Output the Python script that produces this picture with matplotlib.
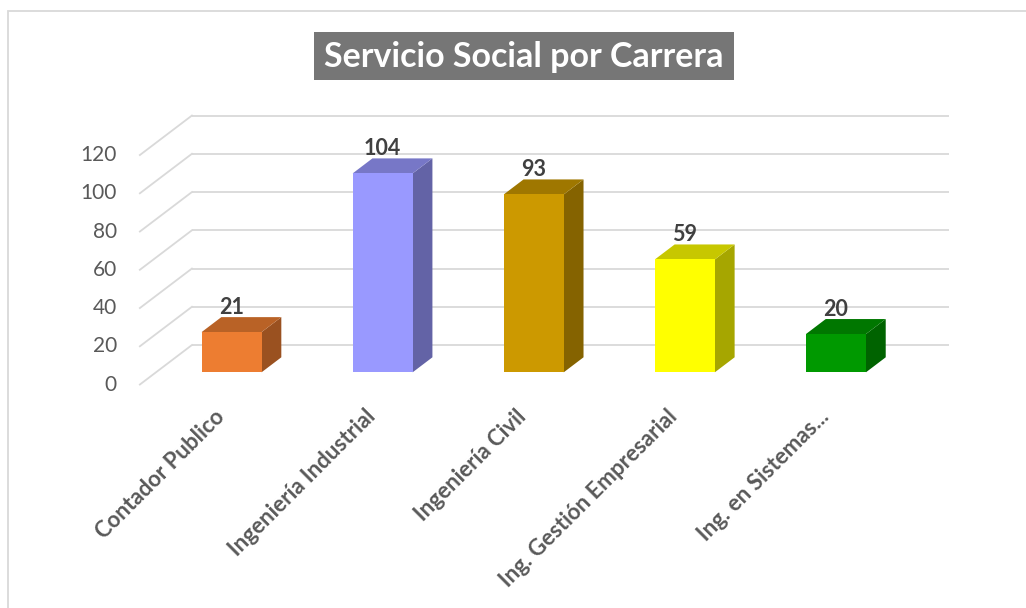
import matplotlib
matplotlib.use("Agg")
import matplotlib.pyplot as plt
from matplotlib.patches import Polygon, Rectangle
from matplotlib.colors import to_rgb

# ---- data ----
categories = ["Contador Publico", "Ingeniería Industrial", "Ingeniería Civil",
              "Ing. Gestión Empresarial", "Ing. en Sistemas..."]
values = [21, 104, 93, 59, 20]
yticks = [0, 20, 40, 60, 80, 100, 120]
title = "Servicio Social por Carrera"
front_colors = ["#ED7D31", "#9999FF", "#CC9900", "#FFFF00", "#009900"]

plt.rcParams['font.family'] = ['Lato', 'DejaVu Sans']

W, H = 1026, 608
fig = plt.figure(figsize=(W / 100, H / 100), dpi=100)
fig.patch.set_facecolor("white")

# chart border (extends beyond the right / bottom of the image)
fig.add_artist(Rectangle((8 / W, -0.1), 1.2, (1 - 11 / H) + 0.1,
                         transform=fig.transFigure, fill=False,
                         edgecolor="#D9D9D9", lw=1.3))

# title box
fig.add_artist(Rectangle((314 / W, 1 - 80 / H), 420 / W, 48 / H,
                         transform=fig.transFigure, facecolor="#767676",
                         edgecolor="none"))
fig.text(524 / W, 1 - 57 / H, title, ha="center", va="center",
         color="white", fontsize=24.5, fontweight="bold")

# plot axes: the front plane of the bars
ax = fig.add_axes([156 / W, (H - 372.3) / H, 755.5 / W, 229.5 / H])
ax.set_xlim(-0.5, 4.5)
ax.set_ylim(0, 120)
ax.axis("off")

# oblique depth (full wall depth in data units)
DX, DY = 0.3444, 20.65
front_frac = 0.31
bar_frac = 0.38
bx, by = DX * (1 - front_frac), DY * (1 - front_frac)
fx, fy = -DX * front_frac, -DY * front_frac
grid_c = "#D9D9D9"

for v in yticks:
    ax.plot([-0.5 + bx, 4.51 + bx], [v + by, v + by], color=grid_c,
            lw=1.3, clip_on=False, zorder=1, solid_capstyle="butt")
    ax.plot([-0.5 + fx, -0.5 + bx], [v + fy, v + by], color=grid_c,
            lw=1.3, clip_on=False, zorder=1)
    ax.text(-0.5 + fx - 0.152, v + fy, str(v), ha="right", va="center",
            fontsize=15, color="#595959")

bw = 0.397
x = list(range(len(values)))
ax.bar(x, values, width=bw, color=front_colors, zorder=3, clip_on=False)

ddx, ddy = DX * bar_frac, DY * bar_frac
for i, (v, c) in enumerate(zip(values, front_colors)):
    r, g, b = to_rgb(c)
    top_c = (r * 0.78, g * 0.78, b * 0.78)
    side_c = (r * 0.65, g * 0.65, b * 0.65)
    l, rr = i - bw / 2, i + bw / 2
    side = Polygon([(rr, 0), (rr + ddx, ddy), (rr + ddx, v + ddy), (rr, v)],
                   closed=True, facecolor=side_c, edgecolor="none",
                   zorder=2.5, clip_on=False)
    top = Polygon([(l, v), (rr, v), (rr + ddx, v + ddy), (l + ddx, v + ddy)],
                  closed=True, facecolor=top_c, edgecolor="none",
                  zorder=2.5, clip_on=False)
    ax.add_patch(side)
    ax.add_patch(top)
    ax.text(i, v + 12.8, str(v), ha="center", va="center", fontsize=15.5,
            fontweight="bold", color="#404040", zorder=5)
    ax.text(i - 0.07, -21.5, categories[i], rotation=45,
            rotation_mode="anchor", ha="right", va="center", fontsize=16,
            fontweight="bold", color="#595959")

fig.savefig("out.png", dpi=100, facecolor="white")
